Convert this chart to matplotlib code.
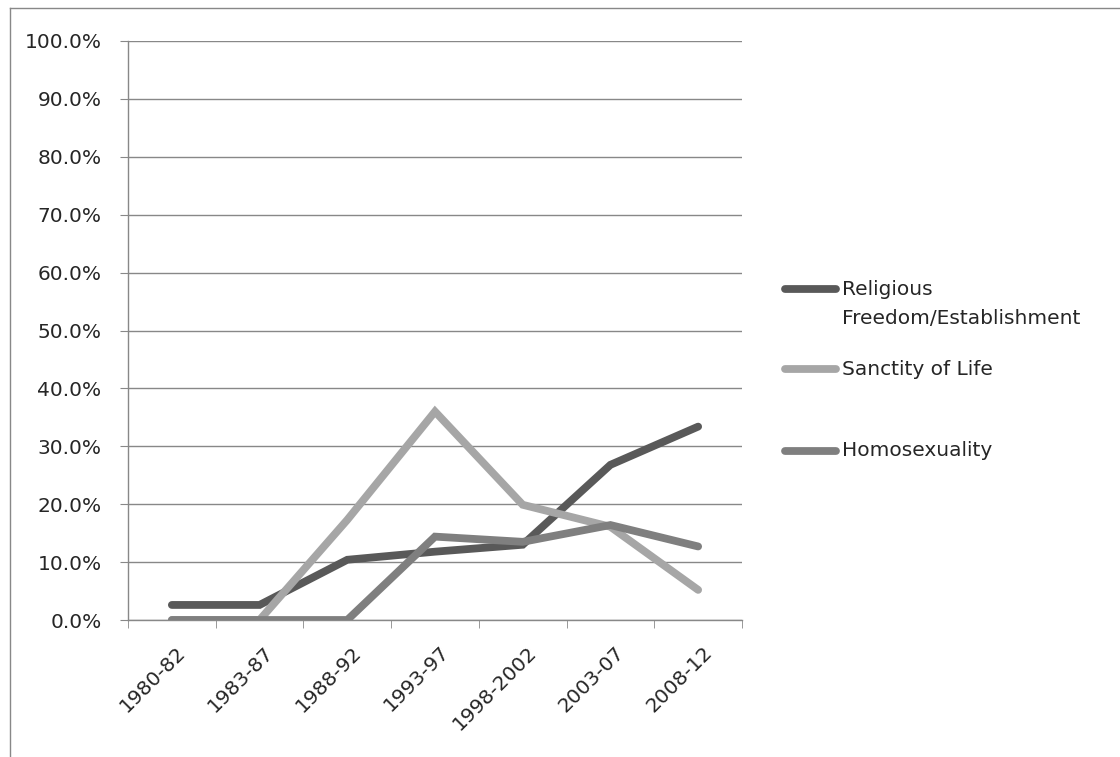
import matplotlib
matplotlib.use("Agg")
import matplotlib.pyplot as plt
import matplotlib.transforms as mtransforms
from matplotlib.lines import Line2D
from matplotlib.ticker import FuncFormatter

# Data (share of cases, %)
periods = ["1980-82", "1983-87", "1988-92", "1993-97", "1998-2002", "2003-07", "2008-12"]
series_names = ["Religious\nFreedom/Establishment", "Sanctity of Life", "Homosexuality"]
religious = [2.6, 2.6, 10.4, 11.8, 13.0, 26.8, 33.4]
sanctity = [0.0, 0.0, 17.3, 36.0, 19.9, 16.1, 5.2]
homosexuality = [0.0, 0.0, 0.0, 14.4, 13.5, 16.4, 12.7]
colors = ["#595959", "#a6a6a6", "#7f7f7f"]

plt.rcParams["font.family"] = ["DejaVu Sans"]
FS = 14.5
TXT = "#262626"

W, H = 1120, 757
fig = plt.figure(figsize=(W / 100, H / 100), dpi=100)
ax = fig.add_axes([128 / W, 1 - 620 / H, (742 - 128) / W, (620 - 41) / H])

x = list(range(len(periods)))
for vals, c in zip([religious, sanctity, homosexuality], colors):
    ax.plot(x, vals, color=c, linewidth=5.6, solid_capstyle="round", solid_joinstyle="miter", zorder=3)

ax.set_xlim(-0.5, len(periods) - 0.5)
ax.set_ylim(0, 100)
ax.set_yticks(range(0, 101, 10))
ax.yaxis.set_major_formatter(FuncFormatter(lambda v, p: f"{v:.1f}%"))
ax.grid(axis="y", color="#888888", linewidth=1)
ax.set_axisbelow(True)

# category labels centred, tick marks between categories
ax.set_xticks(x)
ax.set_xticklabels(periods, rotation=45, ha="right", va="center", rotation_mode="anchor",
                   fontsize=FS, color=TXT)
ax.tick_params(axis="x", length=0, pad=21)
shift = mtransforms.ScaledTranslation(8 / 72, 0, fig.dpi_scale_trans)
for lab in ax.get_xticklabels():
    lab.set_transform(lab.get_transform() + shift)
ax.set_xticks([i - 0.5 for i in range(len(periods) + 1)], minor=True)
ax.tick_params(axis="x", which="minor", length=6, color="#888888", direction="out")
ax.tick_params(axis="y", length=6, color="#888888", labelsize=FS, labelcolor=TXT, pad=13)

for s in ["top", "right"]:
    ax.spines[s].set_visible(False)
for s in ["left", "bottom"]:
    ax.spines[s].set_color("#888888")
    ax.spines[s].set_linewidth(1)

# legend on the right
leg_y = [289, 369, 451]
for name, c, yy in zip(series_names, colors, leg_y):
    fy = 1 - yy / H
    fig.add_artist(Line2D([785 / W, 836 / W], [fy, fy], color=c, linewidth=5.6,
                          solid_capstyle="round", transform=fig.transFigure))
    if "\n" in name:
        fig.text(842 / W, 1 - 280 / H, name, fontsize=FS, va="top", color=TXT,
                 linespacing=1.65)
    else:
        fig.text(842 / W, fy, name, fontsize=FS, va="center", color=TXT)

# outer chart frame (left and top edges visible)
fig.add_artist(Line2D([10 / W, 10 / W], [0, 1 - 8 / H], color="#888888", linewidth=1,
                      transform=fig.transFigure))
fig.add_artist(Line2D([10 / W, 1], [1 - 8 / H, 1 - 8 / H], color="#888888", linewidth=1,
                      transform=fig.transFigure))

fig.savefig("out.png", dpi=100)
